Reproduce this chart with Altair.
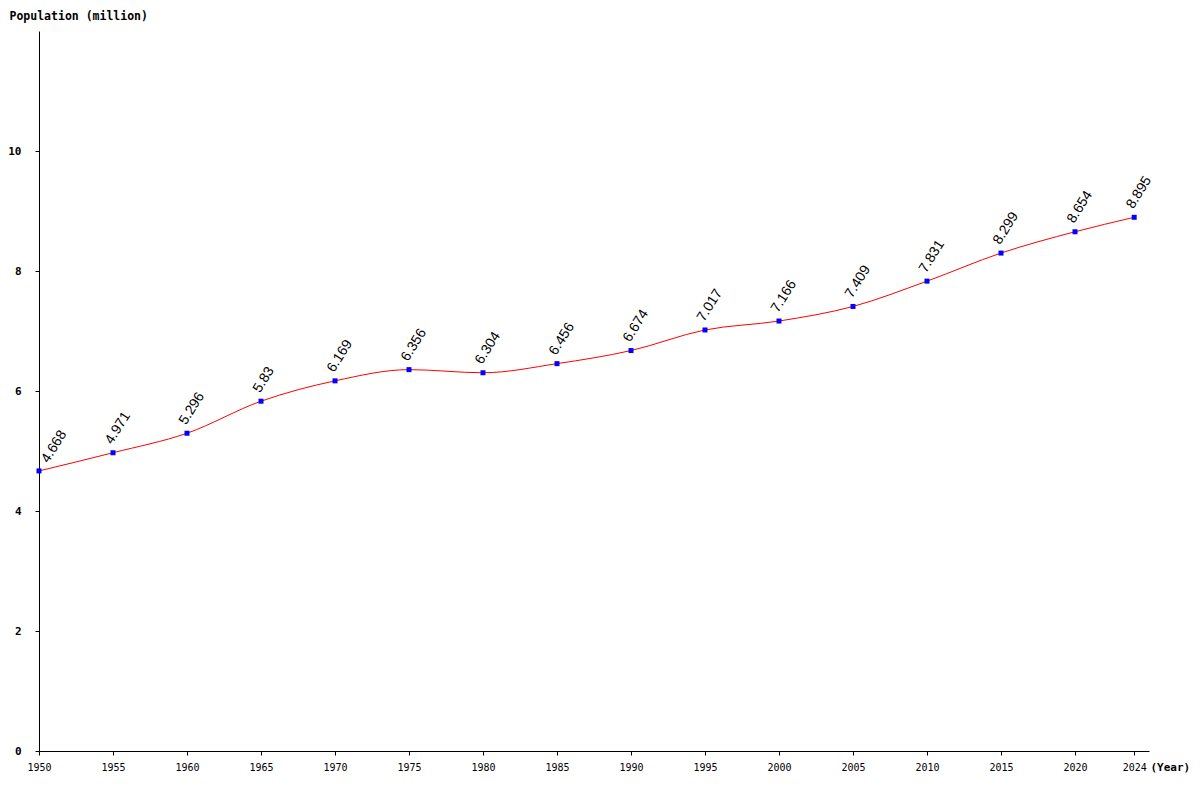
import altair as alt
import pandas as pd

years = [1950, 1955, 1960, 1965, 1970, 1975, 1980, 1985, 1990, 1995, 2000, 2005, 2010, 2015, 2020, 2024]
population = [4.668, 4.971, 5.296, 5.83, 6.169, 6.356, 6.304, 6.456, 6.674, 7.017, 7.166, 7.409, 7.831, 8.299, 8.654, 8.895]
labels = ["4.668", "4.971", "5.296", "5.83", "6.169", "6.356", "6.304", "6.456", "6.674", "7.017", "7.166", "7.409", "7.831", "8.299", "8.654", "8.895"]
y_ticks = [0, 2, 4, 6, 8, 10]

df = pd.DataFrame({"year": years, "pop": population, "label": labels})

x_enc = alt.X(
    "year:Q",
    scale=alt.Scale(domain=[1950, 2025], nice=False, zero=False),
    axis=alt.Axis(
        values=years, format="d", grid=False, domainColor="black", tickColor="black",
        tickSize=4, labelFont="DejaVu Sans Mono", labelFontSize=10, labelColor="black",
        labelPadding=7, labelFlush=False,
        title="(Year)", titleFont="DejaVu Sans Mono", titleFontSize=11, titleFontWeight="bold",
        titleAngle=0, titleAlign="left", titleBaseline="middle", titleX=1111, titleY=16,
        titleColor="black",
    ),
)
y_enc = alt.Y(
    "pop:Q",
    scale=alt.Scale(domain=[0, 12], nice=False),
    axis=alt.Axis(
        values=y_ticks, grid=False, domainColor="black", tickColor="black", tickSize=4,
        labelFont="DejaVu Sans Mono", labelFontSize=11, labelFontWeight="bold",
        labelColor="black", labelPadding=14, labelFlush=False,
        title="Population (million)", titleFont="DejaVu Sans Mono", titleFontSize=11.5,
        titleFontWeight="bold", titleAngle=0, titleAlign="left", titleBaseline="middle",
        titleX=-30, titleY=-15, titleColor="black",
    ),
)

base = alt.Chart(df).encode(x=x_enc, y=y_enc)

line = base.mark_line(color="red", strokeWidth=1, interpolate="monotone")
points = base.mark_point(shape="square", filled=True, color="blue", size=25, opacity=1)
text_style = dict(angle=302, align="left", baseline="alphabetic",
                  font="Liberation Sans", fontSize=14, color="black")
text = base.mark_text(dx=6, dy=-5, **text_style).encode(text="label:N").transform_filter(
    "datum.year > 1950")
text_first = base.mark_text(dx=11, dy=4, **text_style).encode(text="label:N").transform_filter(
    "datum.year == 1950")

chart = (line + points + text + text_first).properties(
    width=1110, height=720,
    background="white",
    padding={"left": 31, "top": 23, "right": 43, "bottom": 28},
    autosize=alt.AutoSizeParams(type="none"),
).configure_view(stroke=None, strokeWidth=0)

chart.save("out.html", embed_options={"renderer": "svg", "actions": False})
